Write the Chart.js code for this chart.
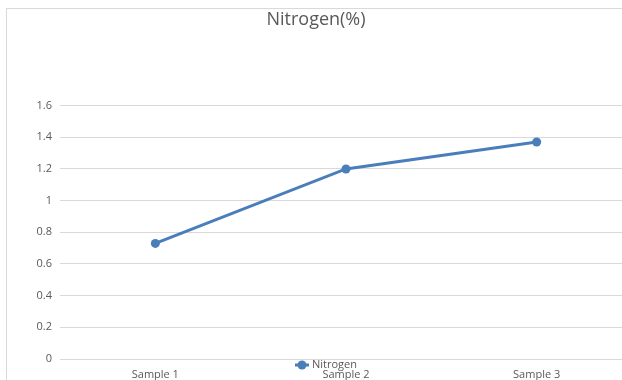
<!DOCTYPE html>
<html>
<head>
<meta charset="utf-8">
<script src="https://cdn.jsdelivr.net/npm/chart.js@4.4.1/dist/chart.umd.min.js"></script>
<style>
  html, body { margin: 0; padding: 0; background: #fff; overflow: hidden; }
  #wrap { position: relative; width: 622px; height: 380px; overflow: hidden; }
  #box { position: absolute; width: 640px; height: 380px; left: 0; top: 0; }
  #frame { position: absolute; left: 6px; top: 8px; width: 700px; height: 400px;
           border-left: 1px solid #d9d9d9; border-top: 1px solid #d9d9d9; pointer-events: none; }
</style>
</head>
<body>
<div id="wrap">
  <div id="box"><canvas id="c" width="640" height="380"></canvas></div>
  <div id="frame"></div>
</div>
<script>
const categories = ["Sample 1", "Sample 2", "Sample 3"];
const nitrogen = [0.73, 1.20, 1.37];
const yTicks = [0, 0.2, 0.4, 0.6, 0.8, 1, 1.2, 1.4, 1.6];

const lineColor = "#4a7ebb";
const textColor = "#595959";
const fontFamily = "'Open Sans', 'Liberation Sans', sans-serif";

// Legend sits on the category axis, centred under the plot
const inlineLegend = {
  id: "inlineLegend",
  afterDraw(chart) {
    const ctx = chart.ctx;
    const ds = chart.data.datasets[0];
    const y = chart.chartArea.bottom + 6;
    const cx = 302;
    ctx.save();
    ctx.strokeStyle = ds.borderColor;
    ctx.lineWidth = 3;
    ctx.beginPath();
    ctx.moveTo(cx - 7, y);
    ctx.lineTo(cx + 7, y);
    ctx.stroke();
    ctx.fillStyle = ds.borderColor;
    ctx.beginPath();
    ctx.arc(cx, y, 4.5, 0, Math.PI * 2);
    ctx.fill();
    ctx.fillStyle = textColor;
    ctx.font = "11px " + fontFamily;
    ctx.textBaseline = "middle";
    ctx.textAlign = "left";
    ctx.fillText(ds.label, cx + 10, y);
    ctx.restore();
  }
};

new Chart(document.getElementById("c"), {
  type: "line",
  data: {
    labels: categories,
    datasets: [{
      label: "Nitrogen",
      data: nitrogen,
      borderColor: lineColor,
      backgroundColor: lineColor,
      borderWidth: 3,
      pointRadius: 4.5,
      pointBorderWidth: 0,
      pointBackgroundColor: lineColor,
      pointBorderColor: lineColor,
      tension: 0
    }]
  },
  options: {
    responsive: false,
    animation: false,
    events: [],
    layout: { padding: { left: 0, right: 8, top: 0, bottom: 0 } },
    plugins: {
      legend: { display: false },
      tooltip: { enabled: false },
      title: {
        display: true,
        text: "Nitrogen(%)",
        color: textColor,
        font: { family: fontFamily, size: 18, weight: "normal" },
        padding: { top: 9, bottom: 75 }
      }
    },
    scales: {
      x: {
        offset: true,
        afterFit(scale) { scale.height = 21; },
        grid: { display: false, drawTicks: false },
        border: { display: false },
        ticks: { color: textColor, font: { family: fontFamily, size: 11 }, padding: 9, maxRotation: 0 }
      },
      y: {
        min: 0,
        max: 1.6,
        afterBuildTicks(scale) { scale.ticks = yTicks.map(v => ({ value: v })); },
        afterFit(scale) { scale.width = 60; },
        grid: { color: "#d9d9d9", lineWidth: 1, drawTicks: false },
        border: { display: false },
        ticks: { color: textColor, font: { family: fontFamily, size: 11 }, padding: 8,
                 callback: v => String(v) }
      }
    }
  },
  plugins: [inlineLegend]
});
</script>
</body>
</html>
